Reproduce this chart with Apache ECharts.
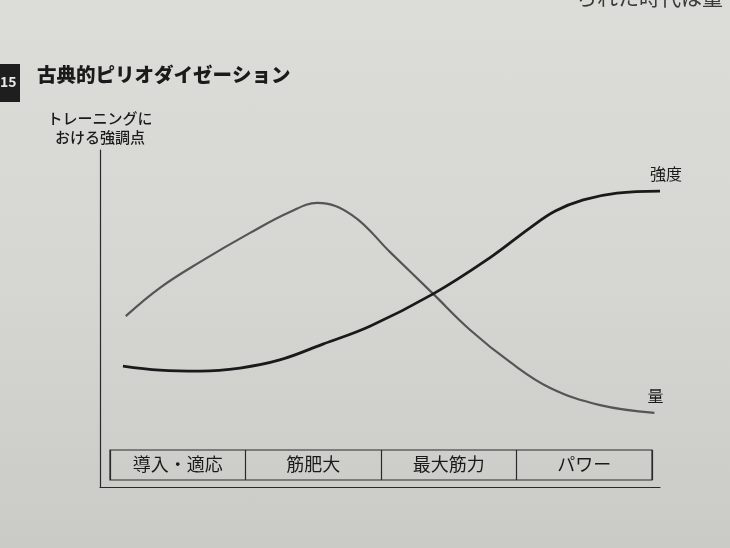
<!DOCTYPE html>
<html>
<head>
<meta charset="utf-8">
<script src="https://cdn.jsdelivr.net/npm/echarts@6/dist/echarts.min.js"></script>
<style>
html,body{margin:0;padding:0;}
#c{width:730px;height:548px;background:linear-gradient(180deg,#dcdcd8 0%,#d6d6d2 50%,#cacac6 100%);}
</style>
</head>
<body>
<div id="c"></div>
<script>
// Data (x: training progression 0-100, y: emphasis 0-100)
const phases = ['導入・適応', '筋肥大', '最大筋力', 'パワー'];
const volumeX = [4.6, 10.7, 17.9, 26.8, 33.9, 38.8, 45.0, 51.8, 59.5, 66.1, 73.2, 80.4, 89.3, 99];
const volumeY = [50.7, 59.1, 66.8, 75.4, 81.6, 84.3, 80.7, 69.7, 57.3, 46.6, 37.1, 29.4, 24.3, 22.0];
const intensityX = [4.1, 10.7, 17.9, 25.0, 32.1, 39.8, 48.2, 59.5, 69.6, 76.8, 81.3, 86.3, 92.3, 100];
const intensityY = [35.9, 34.7, 34.4, 35.3, 37.7, 42.4, 47.7, 57.3, 68.0, 76.9, 81.9, 85.2, 87.2, 87.8];
const seriesNames = ['量', '強度'];
const titleText = '古典的ピリオダイゼーション';
const yAxisLabel = 'トレーニングに\nおける強調点';

const FONT = '"Noto Sans CJK JP", "Noto Sans", sans-serif';
const zip = (xs, ys) => xs.map((x, i) => [x, ys[i]]);

const chart = echarts.init(document.getElementById('c'), null, {renderer: 'canvas'});
chart.setOption({
  backgroundColor: 'transparent',
  animation: false,
  textStyle: {fontFamily: FONT},
  title: {
    text: titleText, left: 32, top: 60,
    textStyle: {fontFamily: FONT, fontSize: 19.5, fontWeight: 900, color: '#1a1a1a'}
  },
  graphic: [
    {type: 'rect', shape: {x: -2, y: 64, width: 22, height: 38}, style: {fill: '#1e1e1e'}},
    {type: 'text', x: 0, y: 75, style: {text: '15', fill: '#e8e8e8', font: 'bold 14px ' + FONT}},
    {type: 'text', x: 576, y: -13, style: {text: 'られた時代は量', fill: '#3a3a3a', font: '21px ' + FONT}}
  ],
  grid: [
    {left: 100, right: 70, top: 150, bottom: 61},
    {left: 110, right: 78, top: 450, bottom: 68, show: true, borderColor: '#2a2a2a', borderWidth: 1.2}
  ],
  xAxis: [
    {gridIndex: 0, type: 'value', min: 0, max: 100,
     axisLine: {show: true, lineStyle: {color: '#2a2a2a', width: 1.2}},
     axisTick: {show: false}, axisLabel: {show: false}, splitLine: {show: false}},
    {gridIndex: 1, type: 'category', data: phases, boundaryGap: true,
     axisLine: {show: false}, axisTick: {show: false},
     axisLabel: {margin: -25, fontSize: 18, color: '#1a1a1a', fontFamily: FONT},
     splitLine: {show: true, lineStyle: {color: '#2a2a2a', width: 1.2}}}
  ],
  yAxis: [
    {gridIndex: 0, type: 'value', min: 0, max: 100,
     name: yAxisLabel, nameLocation: 'end', nameGap: 3,
     nameTextStyle: {fontFamily: FONT, fontSize: 15, color: '#1a1a1a', lineHeight: 19, align: 'center', fontWeight: 500},
     axisLine: {show: true, lineStyle: {color: '#2a2a2a', width: 1.2}},
     axisTick: {show: false}, axisLabel: {show: false}, splitLine: {show: false}},
    {gridIndex: 1, type: 'value', show: false}
  ],
  series: [
    {name: seriesNames[0], type: 'line', xAxisIndex: 0, yAxisIndex: 0,
     data: zip(volumeX, volumeY), smooth: 0.4, symbol: 'none',
     lineStyle: {color: '#555555', width: 2.2},
     endLabel: {show: true, formatter: seriesNames[0], fontSize: 16, color: '#1a1a1a', offset: [-15, -17], fontFamily: FONT}},
    {name: seriesNames[1], type: 'line', xAxisIndex: 0, yAxisIndex: 0,
     data: zip(intensityX, intensityY), smooth: 0.4, symbol: 'none',
     lineStyle: {color: '#1a1a1a', width: 2.8},
     endLabel: {show: true, formatter: seriesNames[1], fontSize: 16, color: '#1a1a1a', offset: [-18, -17], fontFamily: FONT}}
  ]
});
</script>
</body>
</html>
